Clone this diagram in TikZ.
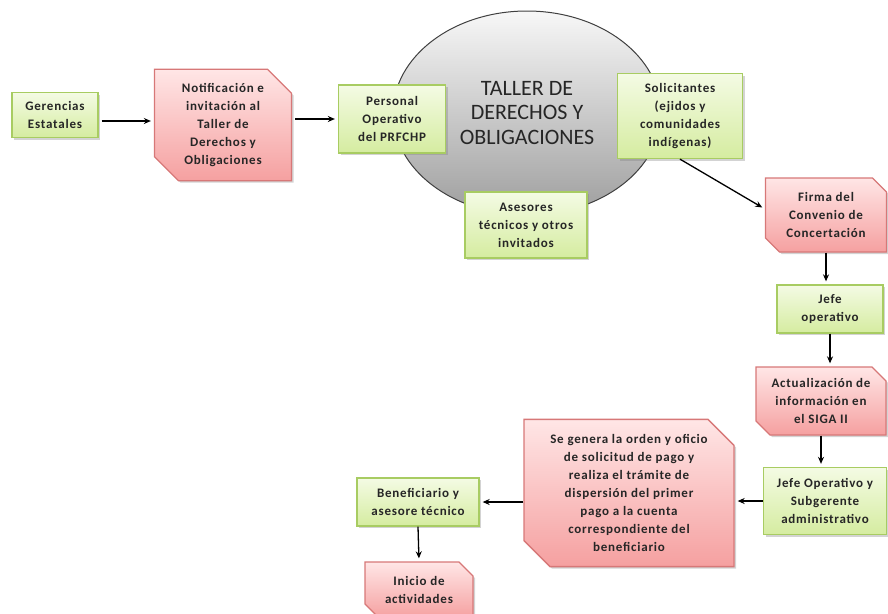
\documentclass[tikz,border=0pt]{standalone}
\usepackage{fontspec}
\setmainfont{Carlito}
\usetikzlibrary{arrows.meta,shapes.misc,shapes.geometric,shadows}

\definecolor{greentop}{RGB}{244,251,228}
\definecolor{greenbot}{RGB}{213,236,160}
\definecolor{greenline}{RGB}{168,204,98}
\definecolor{redtop}{RGB}{255,230,230}
\definecolor{redbot}{RGB}{245,160,160}
\definecolor{redline}{RGB}{215,120,120}

\begin{document}
\begin{tikzpicture}[
  x=1pt, y=-1pt,
  font=\fontsize{13}{18}\selectfont\addfontfeatures{LetterSpace=6}\bfseries,
  text=black!85,
  greenbox/.style={draw=greenline, line width=1.3pt, top color=greentop,
    bottom color=greenbot, align=center, inner sep=2pt,
    drop shadow={shadow xshift=2pt, shadow yshift=-2pt, opacity=0.35}},
  redbox/.style={chamfered rectangle, chamfered rectangle corners={north east,south west},
    chamfered rectangle sep=7pt, draw=redline, line width=1.3pt,
    top color=redtop, bottom color=redbot, align=center, inner sep=2pt,
    drop shadow={shadow xshift=2pt, shadow yshift=-2pt, opacity=0.35}},
  taller/.style={ellipse, draw=black!75, line width=1pt, top color=black!3,
    bottom color=black!38, align=center,
    font=\fontsize{22}{24.5}\selectfont},
  arr/.style={-{Stealth[length=7pt,width=6pt]}, line width=1.3pt,
    shorten <=3pt, shorten >=3pt}
]
  \useasboundingbox (0,0) rectangle (888,613);

  \node[taller, minimum width=268pt, minimum height=204pt] (taller) at (527,113)
    {TALLER DE\\DERECHOS Y\\OBLIGACIONES};

  \node[greenbox, minimum width=86pt, minimum height=45pt] (gerencias) at (55,115)
    {Gerencias\\Estatales};
  \node[redbox, chamfered rectangle sep=12pt, minimum width=137pt, minimum height=101pt]
    (notif) at (223,125)
    {Notificación e\\invitación al\\Taller de\\Derechos y\\Obligaciones};
  \node[greenbox, minimum width=107pt, minimum height=68pt] (personal) at (392,119)
    {Personal\\Operativo\\del PRFCHP};
  \node[greenbox, minimum width=122pt, minimum height=66pt] (asesores) at (526,225)
    {Asesores\\técnicos y otros\\invitados};
  \node[greenbox, minimum width=125pt, minimum height=85pt] (solicit) at (680,116)
    {Solicitantes\\(ejidos y\\comunidades\\indígenas)};
  \node[redbox, minimum width=121pt, minimum height=74pt] (firma) at (826,215)
    {Firma del\\Convenio de\\Concertación};
  \node[greenbox, minimum width=106pt, minimum height=48pt] (jefe) at (830,309)
    {Jefe\\operativo};
  \node[redbox, minimum width=130pt, minimum height=68pt] (actual) at (821,401)
    {Actualización de\\información en\\el SIGA II};
  \node[greenbox, minimum width=123pt, minimum height=67pt] (jefesub) at (825,501)
    {Jefe Operativo y\\Subgerente\\administrativo};
  \node[redbox, chamfered rectangle sep=13pt, minimum width=210pt, minimum height=130pt]
    (pago) at (629,493)
    {Se genera la orden y oficio\\de solicitud de pago y\\realiza el trámite de\\dispersión del primer\\pago a la cuenta\\correspondiente del\\beneficiario};
  \node[greenbox, minimum width=122pt, minimum height=48pt] (benef) at (418,502)
    {Beneficiario y\\asesore técnico};
  \node[redbox, minimum width=108pt, minimum height=56pt] (inicio) at (419,590)
    {Inicio de\\actividades};

  \draw[arr] ([yshift=-6pt]gerencias.east) -- ([yshift=-6pt]gerencias.east -| notif.west);
  \draw[arr] (notif.east |- personal.west) -- (personal.west);
  \draw[arr, shorten <=0pt] (solicit.south) -- ([yshift=6pt]firma.west);
  \draw[arr, shorten <=0pt] (firma.south) -- (firma.south |- jefe.north);
  \draw[arr, shorten <=0pt] (jefe.south) -- (jefe.south |- actual.north);
  \draw[arr, shorten <=0pt] (actual.south) -- (actual.south |- jefesub.north);
  \draw[arr, shorten <=0pt] (jefesub.west) -- (jefesub.west -| pago.east);
  \draw[arr, shorten <=0pt] (pago.west |- benef.east) -- (benef.east);
  \draw[arr, shorten <=0pt] (benef.south) -- (inicio.north);
\end{tikzpicture}
\end{document}
